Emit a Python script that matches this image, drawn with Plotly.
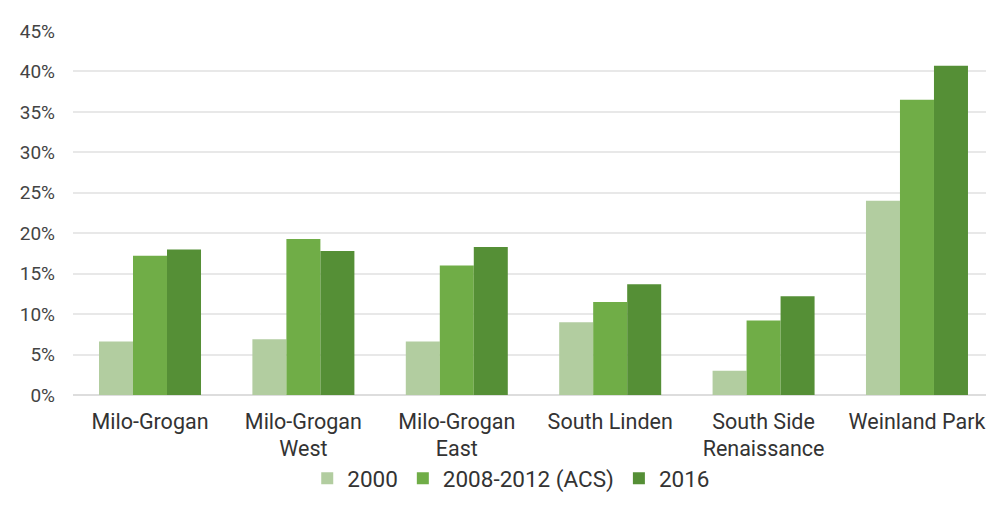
import plotly.graph_objects as go

categories = ["Milo-Grogan", "Milo-Grogan<br>West", "Milo-Grogan<br>East", "South Linden", "South Side<br>Renaissance", "Weinland Park"]
series_names = ["2000", "2008-2012 (ACS)", "2016"]
v2000 = [6.6, 6.9, 6.6, 9.0, 3.0, 24.0]
vacs = [17.2, 19.3, 16.0, 11.5, 9.2, 36.5]
v2016 = [18.0, 17.8, 18.3, 13.7, 12.2, 40.7]
colors = ["#b2cda0", "#70ad47", "#558f36"]
tick_vals = [0, 5, 10, 15, 20, 25, 30, 35, 40, 45]
tick_text = [f"{v}%" for v in tick_vals]

fig = go.Figure()
for name, vals, c in zip(series_names, [v2000, vacs, v2016], colors):
    fig.add_trace(go.Bar(name=name, x=categories, y=vals, marker=dict(color=c, line=dict(width=0))))

fig.update_layout(
    width=978, height=492,
    barmode="group", bargap=0.335, bargroupgap=0,
    plot_bgcolor="white", paper_bgcolor="white",
    margin=dict(l=65, r=0, t=23, b=105),
    font=dict(family="Roboto", color="#333333"),
    legend=dict(orientation="h", xref="paper", x=0.48, xanchor="center",
                yref="container", y=0.0, yanchor="bottom",
                font=dict(size=22.5, color="#333333"), traceorder="normal", itemwidth=30),
    showlegend=True,
)
fig.update_xaxes(tickfont=dict(size=21.5, color="#333333"), showline=False, ticks="",
                 range=[-0.502, 5.45], ticklabelstandoff=11, automargin=False)
fig.update_yaxes(range=[0, 45], tickvals=tick_vals, ticktext=tick_text,
                 tickfont=dict(size=19, color="#444444"), gridcolor="#e8e8e8", gridwidth=1.5,
                 zeroline=True, zerolinecolor="#dddddd", zerolinewidth=1.5, ticks="", ticklabelstandoff=17,
                 automargin=False)

fig.write_html("out.html")
